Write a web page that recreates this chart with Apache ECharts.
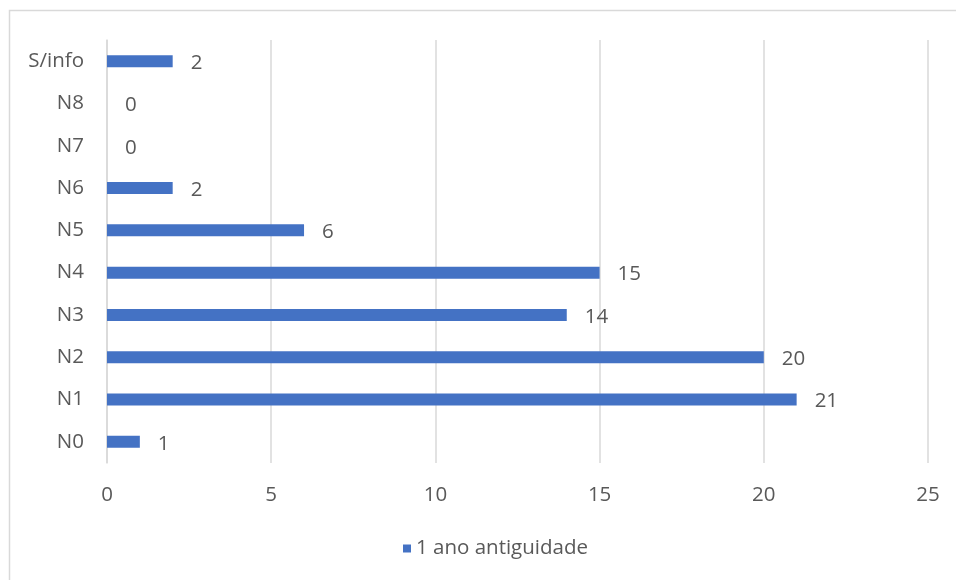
<!DOCTYPE html>
<html>
<head>
<meta charset="utf-8">
<script src="https://cdn.jsdelivr.net/npm/echarts@6/dist/echarts.min.js"></script>
<style>
  html, body { margin: 0; padding: 0; background: #fff; }
  #chart { width: 956px; height: 580px; }
</style>
</head>
<body>
<div id="chart"></div>
<script>
const categories = ['N0', 'N1', 'N2', 'N3', 'N4', 'N5', 'N6', 'N7', 'N8', 'S/info'];
const seriesName = '1 ano antiguidade';
const values = [1, 21, 20, 14, 15, 6, 2, 0, 0, 2];
const xTicks = { min: 0, max: 25, interval: 5 };

const FONT = '"Open Sans", Lato, sans-serif';
const TEXT = '#595959';
const GRID = '#d9d9d9';
const SIZE = 20.5;

const chart = echarts.init(document.getElementById('chart'), null, { renderer: 'canvas' });
chart.setOption({
  animation: false,
  backgroundColor: '#fff',
  graphic: [{
    type: 'rect',
    shape: { x: 9.5, y: 10.5, width: 1000, height: 1000 },
    style: { fill: 'none', stroke: GRID, lineWidth: 1.5 },
    silent: true
  }],
  grid: { left: 107, right: 28, top: 40, bottom: 117, containLabel: false },
  xAxis: {
    type: 'value',
    min: xTicks.min, max: xTicks.max, interval: xTicks.interval,
    axisLine: { show: false },
    axisTick: { show: false },
    splitLine: { show: true, lineStyle: { color: GRID, width: 1.5 } },
    axisLabel: { color: TEXT, fontFamily: FONT, fontSize: SIZE, margin: 22 }
  },
  yAxis: {
    type: 'category',
    data: categories,
    axisLine: { show: true, lineStyle: { color: GRID, width: 1.5 } },
    axisTick: { show: false },
    axisLabel: { color: TEXT, fontFamily: FONT, fontSize: SIZE, margin: 23 }
  },
  legend: {
    bottom: 16,
    left: 398,
    itemWidth: 8, itemHeight: 8,
    icon: 'rect',
    itemGap: 6,
    textStyle: { color: TEXT, fontFamily: FONT, fontSize: SIZE },
    data: [seriesName]
  },
  series: [{
    name: seriesName,
    type: 'bar',
    data: values,
    barWidth: 12,
    itemStyle: { color: '#4472c4' },
    label: {
      show: true, position: 'right', distance: 18, offset: [0, 2],
      color: TEXT, fontFamily: FONT, fontSize: SIZE
    }
  }]
});
</script>
</body>
</html>
